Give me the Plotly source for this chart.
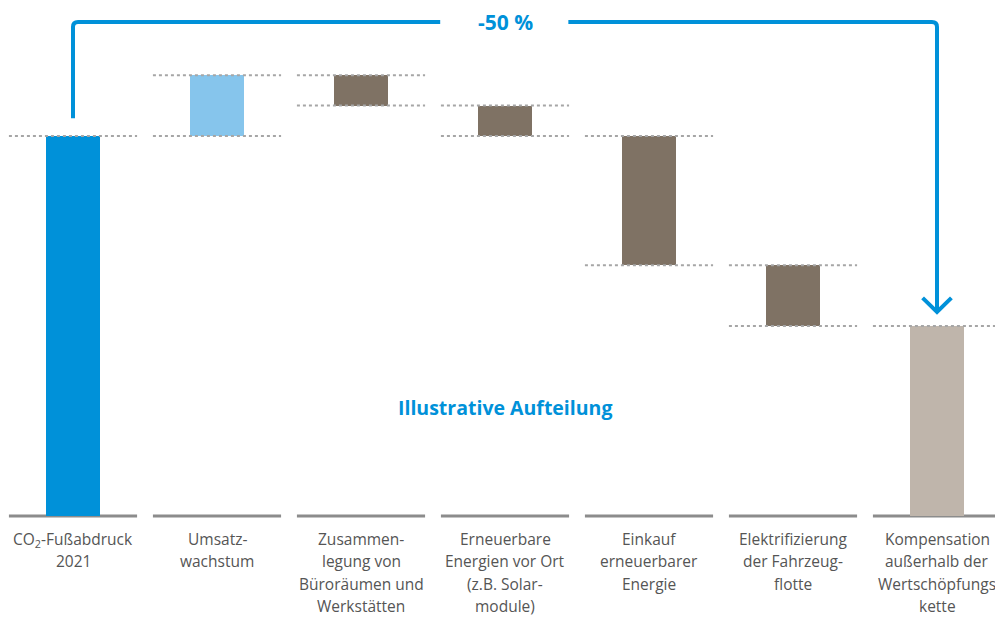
import plotly.graph_objects as go

# ---- data ----
categories = [
    "CO<sub>2</sub>-Fußabdruck<br>2021",
    "Umsatz-<br>wachstum",
    "Zusammen-<br>legung von<br>Büroräumen und<br>Werkstätten",
    "Erneuerbare<br>Energien vor Ort<br>(z.B. Solar-<br>module)",
    "Einkauf<br>erneuerbarer<br>Energie",
    "Elektrifizierung<br>der Fahrzeug-<br>flotte",
    "Kompensation<br>außerhalb der<br>Wertschöpfungs<br>kette",
]
values = [100, 16, -8, -8, -34, -16, 50]
kinds = ["total", "relative", "relative", "relative", "relative", "relative", "total"]
bar_colors = ["#0091D9", "#86C5EC", "#7F7264", "#7F7264", "#7F7264", "#7F7264", "#BFB5AB"]
reduction_label = "-50 %"
center_label = "Illustrative Aufteilung"

# ---- derive waterfall geometry ----
xs = list(range(len(categories)))
bases, heights, levels = [], [], []
running = 0
for v, k in zip(values, kinds):
    if k == "total":
        bases.append(0)
        heights.append(v)
        levels.append([v])
        running = v
    else:
        start, end = running, running + v
        bases.append(min(start, end))
        heights.append(abs(v))
        levels.append([start, end])
        running = end

BLUE = "#0091D9"
fig = go.Figure()
fig.add_trace(go.Bar(
    x=xs, y=heights, base=bases, width=0.375,
    marker=dict(color=bar_colors, line=dict(width=0)),
    hoverinfo="skip", showlegend=False,
))

shapes = []
half = 0.445
for x, lv in zip(xs, levels):
    # grey baseline segment
    shapes.append(dict(type="line", xref="x", yref="y", x0=x - half, x1=x + half, y0=0, y1=0,
                       line=dict(color="#8C8C8C", width=3), layer="below"))
    for L in lv:
        shapes.append(dict(type="line", xref="x", yref="y", x0=x - half, x1=x + half, y0=L, y1=L,
                           line=dict(color="#A6A6A6", width=2, dash="dot"), layer="above"))

# bracket arrow from first to last bar (with slightly rounded corners)
ytop = 130
ystart = values[0] + 4.7
yend = values[-1] + 3.7
rx, ry = 0.035, 1.3
x_first, x_last = xs[0], xs[-1]
shapes.append(dict(type="path", xref="x", yref="y",
                   path=(f"M {x_first},{ystart} L {x_first},{ytop - ry} "
                         f"Q {x_first},{ytop} {x_first + rx},{ytop} L 2.55,{ytop}"),
                   line=dict(color=BLUE, width=4)))
shapes.append(dict(type="path", xref="x", yref="y",
                   path=(f"M 3.44,{ytop} L {x_last - rx},{ytop} "
                         f"Q {x_last},{ytop} {x_last},{ytop - ry} L {x_last},{yend}"),
                   line=dict(color=BLUE, width=4)))
shapes.append(dict(type="path", xref="x", yref="y",
                   path=f"M {x_last - 0.1},{yend + 3.7} L {x_last},{yend} L {x_last + 0.1},{yend + 3.7}",
                   line=dict(color=BLUE, width=4)))

annotations = [
    dict(x=3, y=ytop, xref="x", yref="y", text=f"<b>{reduction_label}</b>", showarrow=False,
         font=dict(family="Open Sans", size=21, color=BLUE), xanchor="center", yanchor="middle"),
    dict(x=3, y=(516 - 407) / 3.8, xref="x", yref="y", text=f"<b>{center_label}</b>", showarrow=False,
         font=dict(family="Open Sans", size=19.5, color=BLUE), xanchor="center", yanchor="middle"),
]
line_gap = 22.3 / 3.8
first_line_y = -(539 - 516) / 3.8
for x, lab in zip(xs, categories):
    for j, part in enumerate(lab.split("<br>")):
        annotations.append(dict(x=x, y=first_line_y - j * line_gap, xref="x", yref="y", text=part,
                                showarrow=False, xanchor="center", yanchor="middle",
                                font=dict(family="Open Sans", size=15.5, color="#555555")))

y0 = -127 / 3.8
fig.update_layout(
    width=995, height=643,
    margin=dict(l=0, r=0, t=0, b=0),
    paper_bgcolor="white", plot_bgcolor="white",
    xaxis=dict(range=[-73 / 144, -73 / 144 + 995 / 144], visible=False, fixedrange=True),
    yaxis=dict(range=[y0, y0 + 643 / 3.8], visible=False, fixedrange=True),
    shapes=shapes, annotations=annotations, bargap=0,
)
fig.write_html("out.html", config={"displayModeBar": False},
               post_script="document.body.style.margin='0';document.body.style.overflow='hidden';")
